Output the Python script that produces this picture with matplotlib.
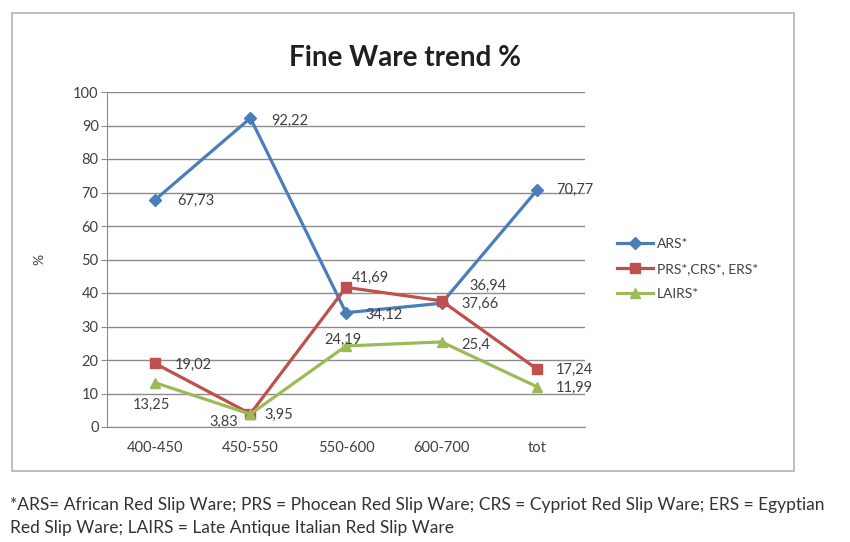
import matplotlib
matplotlib.use("Agg")
import matplotlib.pyplot as plt
from matplotlib.patches import Rectangle

plt.rcParams['font.family'] = ['Lato', 'DejaVu Sans']

periods = ["400-450", "450-550", "550-600", "600-700", "tot"]
ars = [67.73, 92.22, 34.12, 36.94, 70.77]
prs = [19.02, 3.95, 41.69, 37.66, 17.24]
lairs = [13.25, 3.83, 24.19, 25.4, 11.99]
series_names = ["ARS*", "PRS*,CRS*, ERS*", "LAIRS*"]
yticks = list(range(0, 101, 10))

# label offsets (pixels) for each point, tuned by eye
ars_off = [(22, -1), (21, -3), (19, -2), (28, 17), (19, 0)]
prs_off = [(20, -2), (14, -1), (6, 9), (20, -3), (19, -1)]
lairs_off = [(-22, -22), (-41, -8), (-22, 6), (20, -3), (19, -1)]

W, H = 850, 542
fig = plt.figure(figsize=(W / 100, H / 100), dpi=100)

# chart frame
fig.patches.append(Rectangle((12 / W, 1 - 471 / H), 782 / W, 458 / H,
                             transform=fig.transFigure, fill=False,
                             edgecolor="#b8b8b8", lw=1.3))

ax = fig.add_axes([107 / W, 1 - 427 / H, 478 / W, 335 / H])
x = list(range(len(periods)))

styles = [("#4a7ebb", "D", 6), ("#c0504d", "s", 7.5), ("#9bbb59", "^", 7.5)]
datas = [ars, prs, lairs]
offs = [ars_off, prs_off, lairs_off]
for data, (col, mk, ms), name, off in zip(datas, styles, series_names, offs):
    ax.plot(x, data, color=col, lw=2.3, marker=mk, ms=ms, label=name)
    for xi, v, o in zip(x, data, off):
        ax.annotate(str(v).replace(".", ","), (xi, v), xytext=o,
                    textcoords="offset pixels", ha="left", va="center",
                    fontsize=10.5, color="#404040")

ax.set_xlim(-0.5, len(periods) - 0.5)
ax.set_ylim(0, 100)
ax.set_yticks(yticks)
ax.set_xticks(x)
ax.set_xticklabels(periods)
ax.grid(axis="y", color="#8c8c8c", lw=1)
ax.set_axisbelow(True)
for s in ["top", "right"]:
    ax.spines[s].set_visible(False)
for s in ["left", "bottom"]:
    ax.spines[s].set_color("#8c8c8c")
ax.tick_params(axis="both", labelsize=10.5, colors="#404040", length=4,
               color="#8c8c8c")
ax.tick_params(axis="y", pad=2)
ax.tick_params(axis="x", length=0, pad=10)
ax.set_ylabel("%", fontsize=10, color="#404040", labelpad=20)

fig.text(405 / W, 1 - 58 / H, "Fine Ware trend %", ha="center", va="center",
         fontsize=20, fontweight="bold", color="#202020")

fig.legend(loc="center left", bbox_to_anchor=(604 / W, 1 - 269 / H),
           frameon=False, fontsize=10, handlelength=2.6, handletextpad=0.3,
           labelspacing=0.95, labelcolor="#404040")

fig.text(10 / W, 1 - 505 / H,
         "*ARS= African Red Slip Ware; PRS = Phocean Red Slip Ware; "
         "CRS = Cypriot Red Slip Ware; ERS = Egyptian",
         fontsize=12.5, color="#333333", va="center")
fig.text(10 / W, 1 - 528 / H,
         "Red Slip Ware; LAIRS = Late Antique Italian Red Slip Ware",
         fontsize=12.5, color="#333333", va="center")

fig.savefig("out.png", dpi=100)
